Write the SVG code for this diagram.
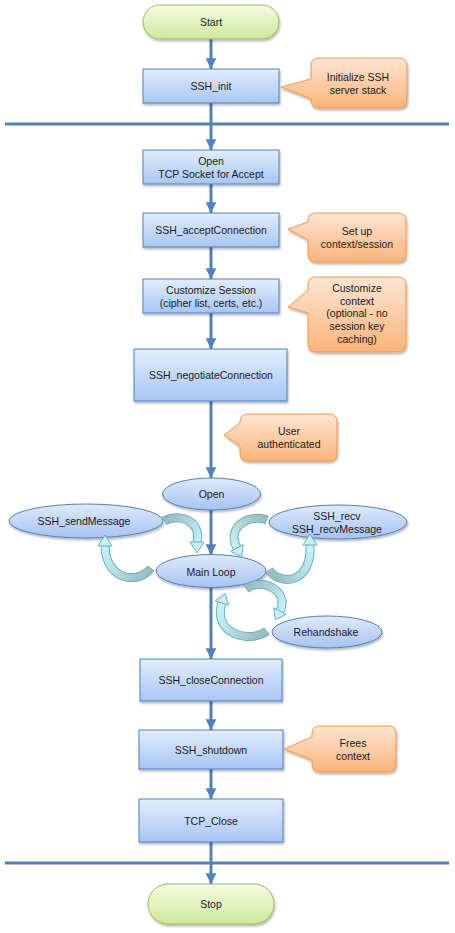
<svg xmlns="http://www.w3.org/2000/svg" width="455" height="933" viewBox="0 0 455 933">
<defs>
<linearGradient id="gBox" x1="0" y1="0" x2="0" y2="1"><stop offset="0" stop-color="#e2edfe"/><stop offset="1" stop-color="#a8c6f4"/></linearGradient>
<linearGradient id="gPill" x1="0" y1="0" x2="0" y2="1"><stop offset="0" stop-color="#f6fce4"/><stop offset="1" stop-color="#cde99b"/></linearGradient>
<linearGradient id="gCall" x1="0" y1="0" x2="0" y2="1"><stop offset="0" stop-color="#fde6d3"/><stop offset="1" stop-color="#fbb47b"/></linearGradient>
<linearGradient id="gEll" x1="0" y1="0" x2="0" y2="1"><stop offset="0" stop-color="#dfeafd"/><stop offset="1" stop-color="#a6c3f1"/></linearGradient>
<linearGradient id="c1" gradientUnits="userSpaceOnUse" x1="164" y1="521" x2="197" y2="545"><stop offset="0" stop-color="#97bcc1"/><stop offset="1" stop-color="#c6f0f6"/></linearGradient>
<linearGradient id="c2" gradientUnits="userSpaceOnUse" x1="151" y1="568" x2="105" y2="548"><stop offset="0" stop-color="#97bcc1"/><stop offset="1" stop-color="#c6f0f6"/></linearGradient>
<linearGradient id="c3" gradientUnits="userSpaceOnUse" x1="267" y1="520" x2="237" y2="548"><stop offset="0" stop-color="#97bcc1"/><stop offset="1" stop-color="#c6f0f6"/></linearGradient>
<linearGradient id="c4" gradientUnits="userSpaceOnUse" x1="269" y1="570" x2="310" y2="548"><stop offset="0" stop-color="#97bcc1"/><stop offset="1" stop-color="#c6f0f6"/></linearGradient>
<linearGradient id="c5" gradientUnits="userSpaceOnUse" x1="246" y1="589" x2="280" y2="611"><stop offset="0" stop-color="#97bcc1"/><stop offset="1" stop-color="#c6f0f6"/></linearGradient>
<linearGradient id="c6" gradientUnits="userSpaceOnUse" x1="267" y1="631" x2="222" y2="605"><stop offset="0" stop-color="#97bcc1"/><stop offset="1" stop-color="#c6f0f6"/></linearGradient>
<filter id="sh" x="-10%" y="-10%" width="125%" height="140%"><feDropShadow dx="1" dy="2" stdDeviation="1.2" flood-color="#000" flood-opacity="0.28"/></filter>
<marker id="ah" markerUnits="userSpaceOnUse" markerWidth="12" markerHeight="12" refX="9" refY="5" orient="auto" viewBox="0 0 10 10"><path d="M0,0.5 L9,5 L0,9.5 Z" fill="#4f81bd"/></marker>
<style>
.box{fill:url(#gBox);stroke:#4f81bd;stroke-width:1;filter:url(#sh)}
.pill{fill:url(#gPill);stroke:#9bbb59;stroke-width:1;filter:url(#sh)}
.call{fill:url(#gCall);stroke:#f79646;stroke-width:1;filter:url(#sh)}
.ell{fill:url(#gEll);stroke:#4f81bd;stroke-width:1;filter:url(#sh)}
.con{stroke:#4f81bd;stroke-width:3;fill:none}
.conA{stroke:#4f81bd;stroke-width:3;fill:none;marker-end:url(#ah)}
.cvO{stroke:#6aaebd;stroke-width:9;fill:none;stroke-linecap:butt}
.cvI{stroke-width:7;fill:none;stroke-linecap:butt}
.cvH{fill:#c6f0f6;stroke:#6aaebd;stroke-width:1;stroke-linejoin:round}
text{font-family:"Liberation Sans",Arial,sans-serif;font-size:10.5px;fill:#1a1a1a;text-anchor:middle}
</style>
</defs>

<g id="connectors">
<line class="con" x1="5" y1="124" x2="449" y2="124"/>
<line class="con" x1="5" y1="863" x2="449" y2="863"/>
<line class="conA" x1="211" y1="39" x2="211" y2="69"/>
<line class="conA" x1="211" y1="103" x2="211" y2="150"/>
<line class="conA" x1="211" y1="184" x2="211" y2="213"/>
<line class="conA" x1="211" y1="247" x2="211" y2="279"/>
<line class="conA" x1="211" y1="313" x2="211" y2="349"/>
<line class="conA" x1="211" y1="401" x2="211" y2="478"/>
<line class="conA" x1="211" y1="510" x2="211" y2="555"/>
<line class="conA" x1="211" y1="588" x2="211" y2="659"/>
<line class="conA" x1="211" y1="701" x2="211" y2="730"/>
<line class="conA" x1="211" y1="769" x2="211" y2="799"/>
<line class="conA" x1="211" y1="842" x2="211" y2="884"/>
</g>

<g id="start"><rect class="pill" x="143" y="5" width="136" height="34" rx="17"/><text x="211" y="26">Start</text></g>
<g id="ssh_init"><rect class="box" x="143" y="69" width="136" height="34"/><text x="211" y="90">SSH_init</text></g>
<g id="note_init"><path class="call" d="M319,58 H399 Q407,58 407,66 V100 Q407,108 399,108 H319 Q311,108 311,100 V99 L281,87 L311,79 V66 Q311,58 319,58 Z"/><text x="358" y="81">Initialize SSH</text><text x="358" y="94">server stack</text></g>

<g id="open_tcp"><rect class="box" x="143" y="150" width="136" height="34"/><text x="211" y="165">Open</text><text x="211" y="178">TCP Socket for Accept</text></g>
<g id="accept"><rect class="box" x="143" y="213" width="136" height="34"/><text x="211" y="234">SSH_acceptConnection</text></g>
<g id="note_accept"><path class="call" d="M316,213 H398 Q406,213 406,221 V254 Q406,262 398,262 H316 Q308,262 308,254 V240 L288,229 L308,222 V221 Q308,213 316,213 Z"/><text x="357" y="235">Set up</text><text x="357" y="248">context/session</text></g>

<g id="customize"><rect class="box" x="143" y="279" width="136" height="34"/><text x="211" y="294">Customize Session</text><text x="211" y="307">(cipher list, certs, etc.)</text></g>
<g id="note_customize"><path class="call" d="M316,277 H398 Q406,277 406,285 V344 Q406,352 398,352 H316 Q308,352 308,344 V313 L288,307 L308,290 V285 Q308,277 316,277 Z"/><text x="357" y="292">Customize</text><text x="357" y="305">context</text><text x="357" y="317">(optional - no</text><text x="357" y="330">session key</text><text x="357" y="343">caching)</text></g>

<g id="negotiate"><rect class="box" x="134" y="349" width="153" height="52"/><text x="211" y="379">SSH_negotiateConnection</text></g>
<g id="note_auth"><path class="call" d="M248,414 H329 Q337,414 337,422 V453 Q337,461 329,461 H248 Q240,461 240,453 V446 L224,435 L240,423 V422 Q240,414 248,414 Z"/><text x="289" y="435">User</text><text x="289" y="448">authenticated</text></g>

<g id="open"><ellipse class="ell" cx="211.5" cy="494" rx="49" ry="16"/><text x="211.5" y="498">Open</text></g>
<g id="send"><ellipse class="ell" cx="86" cy="521" rx="77" ry="17"/><text x="84" y="525">SSH_sendMessage</text></g>
<g id="recv"><ellipse class="ell" cx="338" cy="522" rx="69" ry="17"/><text x="337" y="520">SSH_recv</text><text x="337" y="533">SSH_recvMessage</text></g>
<g id="mainloop"><ellipse class="ell" cx="211" cy="571" rx="55" ry="16.5"/><text x="211" y="576">Main Loop</text></g>
<g id="rehandshake"><ellipse class="ell" cx="327" cy="632" rx="55" ry="16"/><text x="326" y="636">Rehandshake</text></g>

<g id="loop_arrows">
<path class="cvO" d="M164,521 C180,512 202,522 197,542"/><path class="cvI" stroke="url(#c1)" d="M164,521 C180,512 202,522 197,542"/><path class="cvH" d="M190,542 L204,542 L197,553 Z"/>
<path class="cvO" d="M151,568 C140,584 106,582 105,546"/><path class="cvI" stroke="url(#c2)" d="M151,568 C140,584 106,582 105,546"/><path class="cvH" d="M98,546 L112,546 L105,535 Z"/>
<path class="cvO" d="M267,520 C248,513 226,528 237,548"/><path class="cvI" stroke="url(#c3)" d="M267,520 C248,513 226,528 237,548"/><path class="cvH" d="M243.2,544.6 L230.8,551.4 L241.8,556.8 Z"/>
<path class="cvO" d="M269,570 C280,586 312,584 310,545"/><path class="cvI" stroke="url(#c4)" d="M269,570 C280,586 312,584 310,545"/><path class="cvH" d="M303,545 L317,545 L310,534 Z"/>
<path class="cvO" d="M246,589 C262,576 290,592 280,611"/><path class="cvI" stroke="url(#c5)" d="M246,589 C262,576 290,592 280,611"/><path class="cvH" d="M286.2,614.3 L273.8,607.7 L275.3,619.8 Z"/>
<path class="cvO" d="M267,631 C250,644 212,634 222,603"/><path class="cvI" stroke="url(#c6)" d="M267,631 C250,644 212,634 222,603"/><path class="cvH" d="M228.7,605.2 L215.3,600.8 L225.1,593.5 Z"/>
</g>

<g id="close"><rect class="box" x="140" y="659" width="142" height="42"/><text x="211" y="684">SSH_closeConnection</text></g>
<g id="shutdown"><rect class="box" x="139" y="730" width="144" height="39"/><text x="211" y="754">SSH_shutdown</text></g>
<g id="note_frees"><path class="call" d="M320,726 H388 Q396,726 396,734 V764 Q396,772 388,772 H320 Q312,772 312,764 V760 L284,749 L312,737 V734 Q312,726 320,726 Z"/><text x="353" y="747">Frees</text><text x="353" y="760">context</text></g>
<g id="tcp_close"><rect class="box" x="139" y="799" width="144" height="43"/><text x="211" y="825">TCP_Close</text></g>
<g id="stop"><rect class="pill" x="148" y="884" width="126" height="40" rx="20"/><text x="211" y="908">Stop</text></g>
</svg>
